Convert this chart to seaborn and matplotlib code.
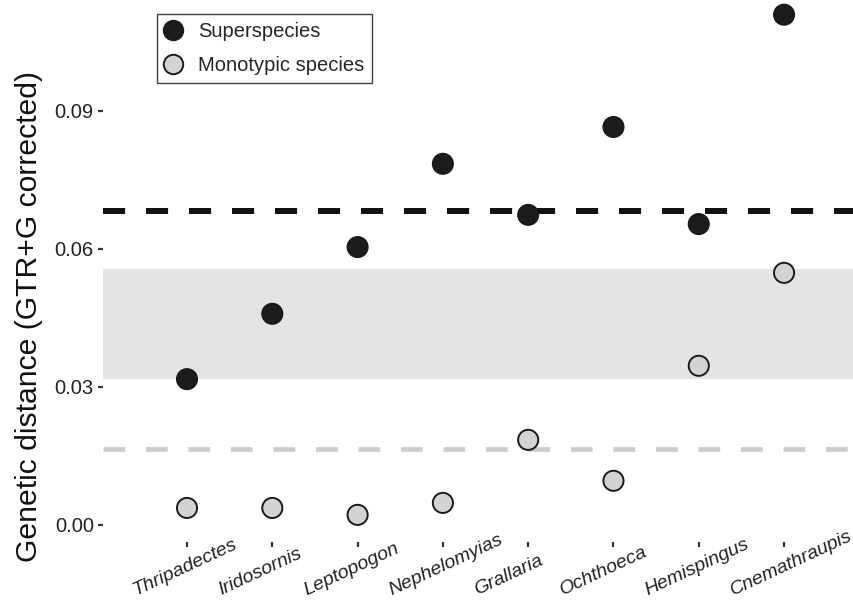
import matplotlib
matplotlib.use("Agg")
import matplotlib.pyplot as plt
import matplotlib.transforms as mtransforms
import seaborn as sns
import pandas as pd
from matplotlib.lines import Line2D

genera = ["Thripadectes", "Iridosornis", "Leptopogon", "Nephelomyias",
          "Grallaria", "Ochthoeca", "Hemispingus", "Cnemathraupis"]
superspecies = [0.0317, 0.0459, 0.0604, 0.0785, 0.0674, 0.0865, 0.0654, 0.1109]
monotypic = [0.0037, 0.0037, 0.0022, 0.0048, 0.0185, 0.0096, 0.0346, 0.0548]
super_threshold = 0.0683
mono_threshold = 0.0165
band_low, band_high = 0.0317, 0.0557
yticks = [0.00, 0.03, 0.06, 0.09]
ytick_labels = ["0.00", "0.03", "0.06", "0.09"]

df = pd.DataFrame({
    "genus": genera * 2,
    "distance": superspecies + monotypic,
    "group": ["Superspecies"] * len(genera) + ["Monotypic species"] * len(genera),
})

sns.set_theme(style="white")
plt.rcParams["font.family"] = ["Liberation Sans", "DejaVu Sans"]

fig = plt.figure(figsize=(8.54, 6.01), dpi=100)
ax = fig.add_axes([103 / 854, 1 - 542 / 601, 1 - 103 / 854, 542 / 601])

ax.axhspan(band_low, band_high, color="#e3e4e6", lw=0, zorder=0)
ax.axhline(super_threshold, color="#111111", lw=4.3, dashes=(3.7, 3.5), zorder=1)
ax.axhline(mono_threshold, color="#cccccc", lw=3.4, dashes=(4.6, 4.4), zorder=1)

palette = {"Superspecies": "#1c1c1c", "Monotypic species": "#d3d3d3"}
sns.scatterplot(data=df, x="genus", y="distance", hue="group", palette=palette,
                s=210, edgecolor="#1a1a1a", linewidth=1.4, ax=ax, zorder=3,
                legend=False)

ax.set_xlim(-0.985, 7.82)
ax.set_ylim(-0.0037, 0.1141)
ax.set_yticks(yticks)
ax.set_yticklabels(ytick_labels, fontsize=14.5, color="#222222")
ax.set_xticks(range(len(genera)))
ax.set_xticklabels(genera, fontsize=14, style="italic", rotation=25,
                   ha="left", va="baseline", rotation_mode="anchor",
                   color="#222222")
for sp in ax.spines.values():
    sp.set_visible(False)
ax.tick_params(axis="both", which="both", length=3.6, width=1.6, color="#333333",
               left=True, bottom=True)
ax.tick_params(axis="y", pad=3)
ax.tick_params(axis="x", pad=34.6)
ax.set_xlabel("")
ax.set_ylabel("")
fig.text(29 / 854, 1 - 316 / 601, "Genetic distance (GTR+G corrected)",
         rotation=90, ha="center", va="center", fontsize=21.7, color="#111111")

handles = [
    Line2D([], [], marker="o", ls="", markersize=14, markerfacecolor="#1c1c1c",
           markeredgecolor="#1a1a1a", markeredgewidth=1.4, label="Superspecies"),
    Line2D([], [], marker="o", ls="", markersize=14, markerfacecolor="#d3d3d3",
           markeredgecolor="#1a1a1a", markeredgewidth=1.4, label="Monotypic species"),
]
leg = ax.legend(handles=handles, loc="upper left",
                bbox_to_anchor=(157 / 854, 1 - 14 / 601), bbox_transform=fig.transFigure,
                frameon=True, fancybox=False, edgecolor="#111111", fontsize=14.5,
                handletextpad=0.84, borderpad=0.4, labelspacing=0.74, borderaxespad=0,
                handlelength=0.8)
leg.get_frame().set_linewidth(1.0)

shift = mtransforms.ScaledTranslation(-0.51, 0, fig.dpi_scale_trans)
for lab in ax.get_xticklabels():
    lab.set_transform(lab.get_transform() + shift)

fig.savefig("out.png", dpi=100)
